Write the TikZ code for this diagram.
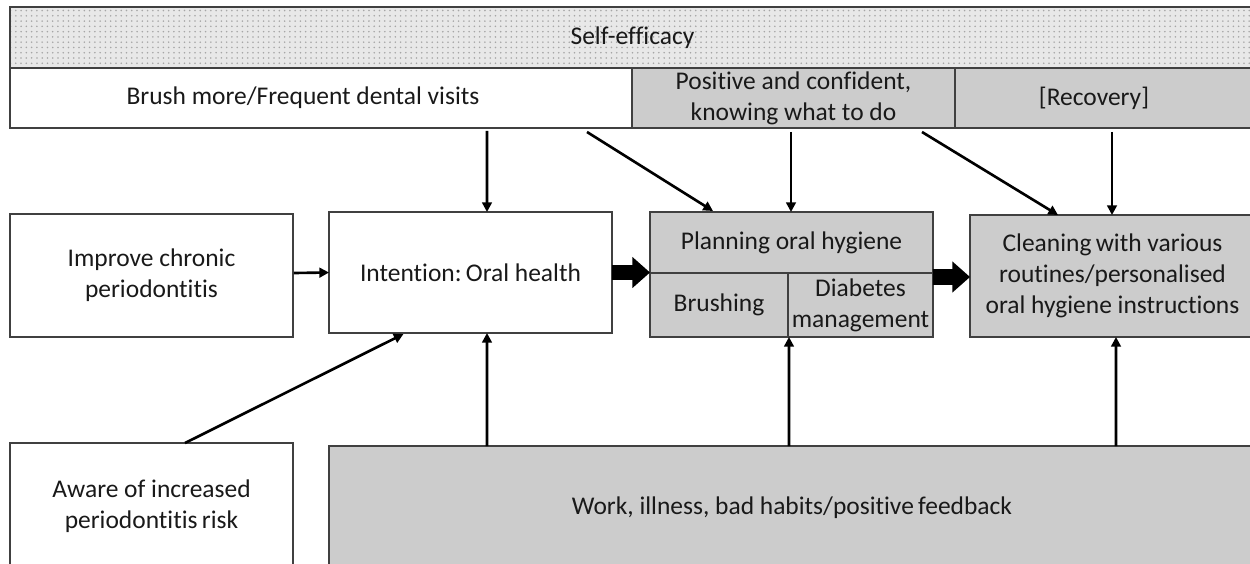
\documentclass[tikz,border=0pt]{standalone}
\usepackage{fontspec}
\setmainfont{Carlito}[Ligatures=NoCommon]
\usetikzlibrary{arrows.meta,calc,patterns}
\begin{document}
\begin{tikzpicture}[x=0.02cm,y=-0.02cm,
  font=\fontsize{14.5}{17.6}\selectfont,
  box/.style={draw=black!75,line width=0.8pt,inner sep=0pt,outer sep=0pt,align=center,text=black!90},
  gbox/.style={box,fill=black!20},
  arr/.style={line width=1.5pt,-{Triangle[length=5.5pt,width=5.5pt]}},
  blk/.style={line width=9pt,-{Triangle[length=10pt,width=17pt]}}]
\useasboundingbox (0,0) rectangle (1250,564);
% top band
\node[box,preaction={fill=black!9},pattern=dots,pattern color=black!35,minimum width=24.9cm,minimum height=1.22cm] (self) at (632.5,37.5) {};
\node[text=black!90] (selft) at (self.center) {Self-efficacy};
\node[box,fill=white,minimum width=12.44cm,minimum height=1.2cm,label={[xshift=-0.36cm,text=black!90]center:Brush more/Frequent dental visits}] (brush) at (321,98) {};
\node[gbox,minimum width=6.46cm,minimum height=1.2cm] (positive) at (793.5,98) {Positive and confident,\\knowing what to do};
\node[gbox,minimum width=6.0cm,minimum height=1.2cm,label={[xshift=-0.22cm,text=black!90]center:[Recovery]}] (recovery) at (1105,98) {};
% middle row
\node[box,minimum width=5.66cm,minimum height=2.46cm] (improve) at (151.5,275.5) {Improve chronic\\periodontitis};
\node[box,minimum width=5.66cm,minimum height=2.42cm] (intention) at (470.5,272.5) {Intention:\,Oral health};
\node[gbox,minimum width=5.66cm,minimum height=1.22cm] (plantop) at (791.5,242.5) {Planning oral hygiene};
\node[gbox,minimum width=2.76cm,minimum height=1.28cm] (brushing) at (719,305) {Brushing};
\node[gbox,minimum width=2.9cm,minimum height=1.28cm] (diabetes) at (860.5,305) {Diabetes\\management};
\node[gbox,minimum width=5.7cm,minimum height=2.44cm] (cleaning) at (1112.5,276) {Cleaning\,with various\\routines/personalised\\oral hygiene instructions};
% bottom row
\node[box,minimum width=5.66cm,minimum height=2.54cm] (aware) at (151.5,506.5) {Aware of increased\\periodontitis\,risk};
\node[gbox,minimum width=18.52cm,minimum height=2.48cm] (work) at (792,508) {Work, illness, bad habits/positive\,feedback};
% arrows from top
\draw[arr] ($(brush.south)+(166,3)$) -- ($(intention.north)+(16.5,0)$);
\draw[arr] ($(brush.south)+(266,4)$) -- ($(plantop.north)+(-78.5,-1)$);
\draw[arr] ($(positive.south)+(-2.5,4)$) -- ($(plantop.north)+(-0.5,0)$);
\draw[arr] ($(positive.south)+(128.5,4)$) -- ($(cleaning.north)+(-54.5,0)$);
\draw[arr] ($(recovery.south)+(7,4)$) -- ($(cleaning.north)+(-0.5,0)$);
% side arrows
\draw[arr] ($(improve.east)+(1,-2.5)$) -- (intention.west);
\draw[arr] ($(aware.north)+(33.5,0)$) -- ($(intention.south)+(-67,1)$);
% bottom arrows
\draw[arr] ($(work.north)+(-305,0)$) -- ($(intention.south)+(16.5,0)$);
\draw[arr] ($(work.north)+(-3,0)$) -- ($(brushing.south east)+(1,0)$);
\draw[arr] ($(work.north)+(324,0)$) -- ($(cleaning.south)+(3.5,0)$);
% block arrows
\draw[blk] (intention.east) -- (intention.east -| plantop.west);
\draw[blk] ($(plantop.south east)+(0,4)$) -- ($(cleaning.west)+(0,1)$);
\end{tikzpicture}
\end{document}
